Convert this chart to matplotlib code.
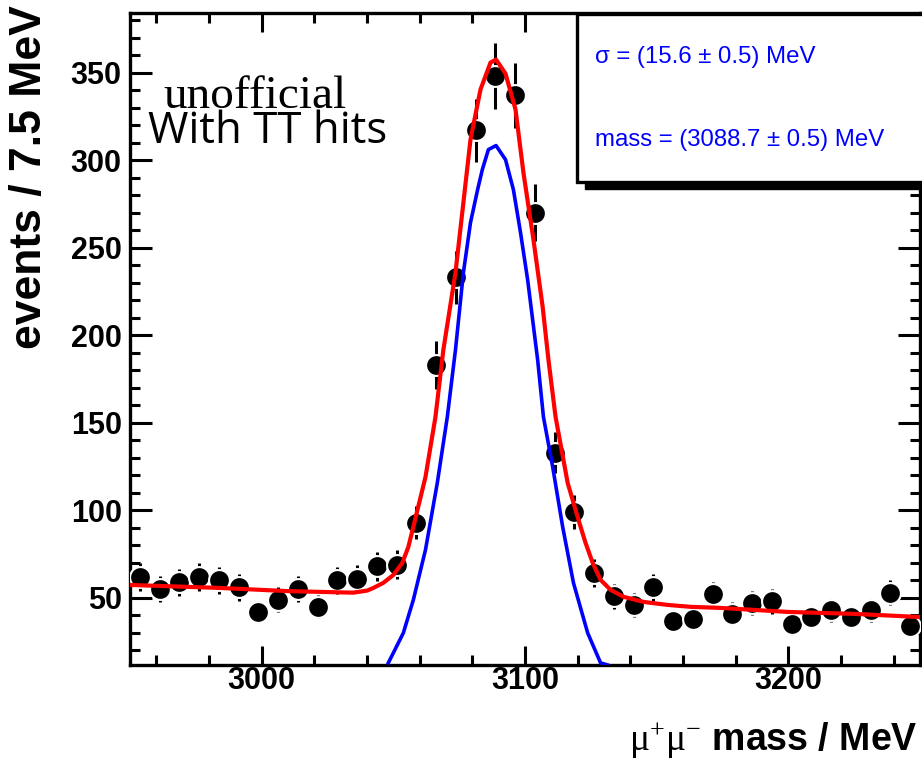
import matplotlib
matplotlib.use("Agg")
import matplotlib.pyplot as plt
from matplotlib.patches import Rectangle
from matplotlib.ticker import MultipleLocator
import numpy as np

# binning: 40 bins of 7.5 MeV from 2950 to 3250
bin_lo = 2950.0
bin_hi = 3250.0
bin_width = 7.5

counts = [62, 55, 59, 62, 60, 56, 42, 49, 55, 45,
          60, 61, 68, 69, 93, 183, 233, 317, 348, 337,
          270, 133, 99, 64, 51, 46, 56, 37, 38, 52,
          41, 47, 48, 35, 39, 43, 39, 43, 53, 34]
errors = [7.9, 7.4, 7.7, 7.9, 7.7, 7.5, 6.5, 7.0, 7.4, 6.7,
          7.7, 7.8, 8.2, 8.3, 9.6, 13.5, 15.3, 17.8, 18.7, 18.4,
          16.4, 11.5, 9.9, 8.0, 7.1, 6.8, 7.5, 6.1, 6.2, 7.2,
          6.4, 6.9, 6.9, 5.9, 6.2, 6.6, 6.2, 6.6, 7.3, 5.8]

# total fit (signal + background)
fit_x = [2950.0, 2984.2, 3009.7, 3034.8, 3040.1, 3042.4, 3046.2, 3050.0,
         3053.4, 3055.7, 3057.6, 3062.2, 3066.0, 3069.0, 3073.6, 3079.3,
         3083.1, 3086.9, 3089.0, 3092.6, 3096.4, 3099.4, 3103.2, 3106.7,
         3108.9, 3111.6, 3116.2, 3120.3, 3123.0, 3125.7, 3128.7, 3132.5,
         3137.5, 3145.1, 3154.2, 3163.0, 3174.3, 3199.8, 3224.9, 3250.0]
fit_y = [57.4, 55.7, 53.9, 53.0, 54.2, 55.7, 58.6, 63.1,
         70.0, 79.1, 90.6, 119.0, 153.4, 191.7, 235.7, 311.7,
         340.3, 355.7, 357.4, 349.4, 328.9, 292.9, 254.6, 216.3,
         186.0, 153.4, 115.7, 94.6, 81.4, 70.0, 60.3, 54.6,
         50.6, 47.7, 46.0, 44.9, 44.3, 42.0, 40.9, 39.1]

# signal gaussian
sig_x = [3048.1, 3053.8, 3057.6, 3062.2, 3066.7, 3070.5, 3073.6, 3076.6,
         3079.3, 3082.0, 3083.8, 3086.1, 3089.0, 3092.6, 3095.6, 3098.3,
         3101.0, 3104.8, 3107.0, 3110.5, 3114.3, 3118.4, 3123.8, 3128.7,
         3131.4]
sig_y = [12.9, 30.0, 48.9, 77.4, 115.7, 153.4, 191.7, 235.7,
         264.3, 283.1, 294.6, 306.0, 308.3, 300.3, 283.1, 258.6,
         231.7, 186.0, 153.4, 124.9, 90.6, 58.6, 30.0, 12.9,
         11.7]

sigma_text = "\u03c3 = (15.6 \u00b1 0.5) MeV"
mass_text = "mass = (3088.7 \u00b1 0.5) MeV"

W, H = 922, 766
plt.rcParams['mathtext.fontset'] = 'custom'
plt.rcParams['mathtext.rm'] = 'Liberation Serif'

fig = plt.figure(figsize=(W / 100, H / 100), dpi=100)
ax = fig.add_axes([130 / W, 1 - 665 / H, 790 / W, 652 / H])

edges = np.arange(bin_lo, bin_hi + 0.1, bin_width)
centers = 0.5 * (edges[:-1] + edges[1:])

ax.errorbar(centers, counts, yerr=errors, xerr=bin_width / 2, fmt='o',
            color='black', ms=15, mec='white', mew=1.5,
            elinewidth=2.2, capsize=0, zorder=3)
ax.plot(sig_x, sig_y, color='#0000ff', lw=2.6, zorder=4)
ax.plot(fit_x, fit_y, color='#ff0000', lw=3.0, zorder=5)

ax.set_xlim(bin_lo, bin_hi)
ax.set_ylim(11.7, 384)
ax.xaxis.set_major_locator(MultipleLocator(100))
ax.xaxis.set_minor_locator(MultipleLocator(20))
ax.yaxis.set_major_locator(MultipleLocator(50))
ax.yaxis.set_minor_locator(MultipleLocator(10))
ax.tick_params(which='both', direction='in', top=True, right=True, width=2.2)
ax.tick_params(axis='x', which='major', length=14, pad=1)
ax.tick_params(axis='y', which='major', length=16, pad=6)
ax.tick_params(which='minor', length=7)
for s in ax.spines.values():
    s.set_linewidth(2.4)
for lab in ax.get_xticklabels() + ax.get_yticklabels():
    lab.set_family('Liberation Sans')
    lab.set_fontweight('bold')
    lab.set_fontsize(22)

fig.text(30 / W, 1 - 5 / H, "events / 7.5 MeV", rotation=90, ha='center',
         va='top', fontsize=32, fontweight='bold', family='Liberation Sans')
fig.text(918 / W, 1 - 740 / H, r"$\mathrm{\mu^{+}\mu^{-}}$ mass / MeV",
         ha='right', va='center', fontsize=27, fontweight='bold',
         family='Liberation Sans')

fig.text(163 / W, 1 - 108 / H, "unofficial", ha='left', va='baseline',
         fontsize=34, family='Liberation Serif')
fig.text(148 / W, 1 - 143 / H, "With TT hits", ha='left', va='baseline',
         fontsize=31.5, family='Open Sans')

# stats box with shadow
shadow = Rectangle((585, H - 189), 360, 168, transform=None,
                   facecolor='black', edgecolor='black', zorder=10,
                   clip_on=False)
box = Rectangle((577, H - 182), 360, 168, transform=None,
                facecolor='white', edgecolor='black', lw=2.4, zorder=11,
                clip_on=False)
fig.add_artist(shadow)
fig.add_artist(box)
fig.text(595 / W, 1 - 57 / H, sigma_text, ha='left', va='center',
         color='#0000ff', fontsize=17.3, family='Liberation Sans', zorder=12)
fig.text(595 / W, 1 - 140 / H, mass_text, ha='left', va='center',
         color='#0000ff', fontsize=17.3, family='Liberation Sans', zorder=12)

fig.savefig("out.png", dpi=100)
